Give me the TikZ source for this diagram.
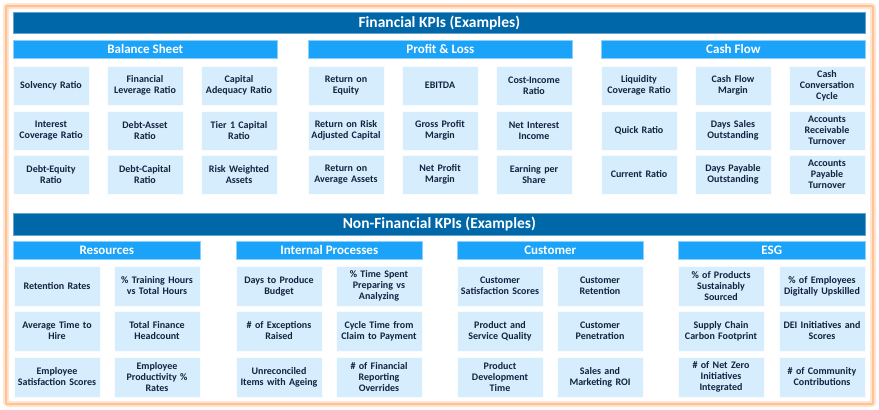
\documentclass[tikz,border=0pt]{standalone}
\usepackage{fontspec}
\setmainfont{Carlito}
\definecolor{hdr}{HTML}{0067A8}
\definecolor{sub}{HTML}{1AA3F8}
\definecolor{kbg}{HTML}{D5EDFD}
\definecolor{ktx}{HTML}{14233F}
\definecolor{edge}{HTML}{FFC393}
\definecolor{glow}{HTML}{FFE6D2}
\tikzset{
  hdrbox/.style={fill=hdr, draw=hdr!60!white, line width=0.6pt, text=white, font=\fontsize{15.5}{18}\selectfont\bfseries, inner sep=0pt, anchor=north west},
  subbox/.style={fill=sub, draw=sub!50!white, line width=0.6pt, text=white, font=\fontsize{13}{15}\selectfont\bfseries, inner sep=0pt, anchor=north west},
  kpi/.style={fill=kbg, draw=white!85!kbg, line width=0.6pt, text=ktx, font=\fontsize{10}{11}\selectfont\bfseries, align=center, inner sep=1pt},
  kpiA/.style={kpi, minimum width=76pt, minimum height=39pt, text width=74pt},
  kpiB/.style={kpi, minimum width=86pt, minimum height=40pt, text width=84pt}
}
\begin{document}
\begin{tikzpicture}[x=1pt,y=-1pt]
\useasboundingbox (0,0) rectangle (879,410);
\fill[white] (0,0) rectangle (879,410);
% outer frame
\draw[glow, line width=6pt, rounded corners=2pt] (6,6) rectangle (873,404);
\draw[edge, line width=2pt, rounded corners=1pt] (6,6) rectangle (873,404);

% ---------- Financial ----------
\node[hdrbox, minimum width=852pt, minimum height=21pt] (fin) at (13,12) {Financial KPIs (Examples)};
\node[subbox, minimum width=264pt, minimum height=18pt] (bs) at (13,40) {Balance Sheet};
\node[subbox, minimum width=264pt, minimum height=18pt] (pl) at (308,40) {Profit \& Loss};
\node[subbox, minimum width=264pt, minimum height=18pt] (cf) at (601,40) {Cash Flow};

% Balance sheet
\node[kpiA] (b11) at (51,85.5) {Solvency Ratio};
\node[kpiA] (b12) at (145,85.5) {Financial\\Leverage Ratio};
\node[kpiA] (b13) at (239,85.5) {Capital\\Adequacy Ratio};
\node[kpiA] (b21) at (51,130.5) {Interest\\Coverage Ratio};
\node[kpiA] (b22) at (145,130.5) {Debt-Asset\\Ratio};
\node[kpiA] (b23) at (239,130.5) {Tier 1 Capital\\Ratio};
\node[kpiA] (b31) at (51,174.5) {Debt-Equity\\Ratio};
\node[kpiA] (b32) at (145,174.5) {Debt-Capital\\Ratio};
\node[kpiA] (b33) at (239,174.5) {Risk Weighted\\Assets};
% Profit & Loss
\node[kpiA] (p11) at (346,85.5) {Return on\\Equity};
\node[kpiA] (p12) at (440,85.5) {EBITDA};
\node[kpiA] (p13) at (534,85.5) {Cost-Income\\Ratio};
\node[kpiA] (p21) at (346,130.5) {Return on Risk\\Adjusted Capital};
\node[kpiA] (p22) at (440,130.5) {Gross Profit\\Margin};
\node[kpiA] (p23) at (534,130.5) {Net Interest\\Income};
\node[kpiA] (p31) at (346,174.5) {Return on\\Average Assets};
\node[kpiA] (p32) at (440,174.5) {Net Profit\\Margin};
\node[kpiA] (p33) at (534,174.5) {Earning per\\Share};
% Cash flow
\node[kpiA] (c11) at (639,85.5) {Liquidity\\Coverage Ratio};
\node[kpiA] (c12) at (733,85.5) {Cash Flow\\Margin};
\node[kpiA] (c13) at (827,85.5) {Cash\\Conversation\\Cycle};
\node[kpiA] (c21) at (639,130.5) {Quick Ratio};
\node[kpiA] (c22) at (733,130.5) {Days Sales\\Outstanding};
\node[kpiA] (c23) at (827,130.5) {Accounts\\Receivable\\Turnover};
\node[kpiA] (c31) at (639,174.5) {Current Ratio};
\node[kpiA] (c32) at (733,174.5) {Days Payable\\Outstanding};
\node[kpiA] (c33) at (827,174.5) {Accounts\\Payable\\Turnover};

% ---------- Non-Financial ----------
\node[hdrbox, minimum width=852pt, minimum height=22pt] (nfin) at (13,213) {Non-Financial KPIs (Examples)};
\node[subbox, minimum width=187pt, minimum height=18pt] (res) at (13,241) {Resources};
\node[subbox, minimum width=186pt, minimum height=18pt] (ip) at (236,241) {Internal Processes};
\node[subbox, minimum width=186pt, minimum height=18pt] (cu) at (457,241) {Customer};
\node[subbox, minimum width=187pt, minimum height=18pt] (esg) at (678,241) {ESG};

% Resources
\node[kpiB] (r11) at (57,286) {Retention Rates};
\node[kpiB] (r12) at (157,286) {\% Training Hours\\vs Total Hours};
\node[kpiB] (r21) at (57,331) {Average Time to\\Hire};
\node[kpiB] (r22) at (157,331) {Total Finance\\Headcount};
\node[kpiB] (r31) at (57,377) {Employee\\Satisfaction Scores};
\node[kpiB] (r32) at (157,377) {Employee\\Productivity \%\\Rates};
% Internal processes
\node[kpiB] (i11) at (279,286) {Days to Produce\\Budget};
\node[kpiB] (i12) at (379,286) {\% Time Spent\\Preparing vs\\Analyzing};
\node[kpiB] (i21) at (279,331) {\# of Exceptions\\Raised};
\node[kpiB] (i22) at (379,331) {Cycle Time from\\Claim to Payment};
\node[kpiB] (i31) at (279,377) {Unreconciled\\Items with Ageing};
\node[kpiB] (i32) at (379,377) {\# of Financial\\Reporting\\Overrides};
% Customer
\node[kpiB] (u11) at (500,286) {Customer\\Satisfaction Scores};
\node[kpiB] (u12) at (600,286) {Customer\\Retention};
\node[kpiB] (u21) at (500,331) {Product and\\Service Quality};
\node[kpiB] (u22) at (600,331) {Customer\\Penetration};
\node[kpiB] (u31) at (500,377) {Product\\Development\\Time};
\node[kpiB] (u32) at (600,377) {Sales and\\Marketing ROI};
% ESG
\node[kpiB] (e11) at (721,286) {\% of Products\\Sustainably\\Sourced};
\node[kpiB] (e12) at (822,286) {\% of Employees\\Digitally Upskilled};
\node[kpiB] (e21) at (721,331) {Supply Chain\\Carbon Footprint};
\node[kpiB] (e22) at (822,331) {DEI Initiatives and\\Scores};
\node[kpiB] (e31) at (721,377) {\# of Net Zero\\Initiatives\\Integrated};
\node[kpiB] (e32) at (822,377) {\# of Community\\Contributions};
\end{tikzpicture}
\end{document}
